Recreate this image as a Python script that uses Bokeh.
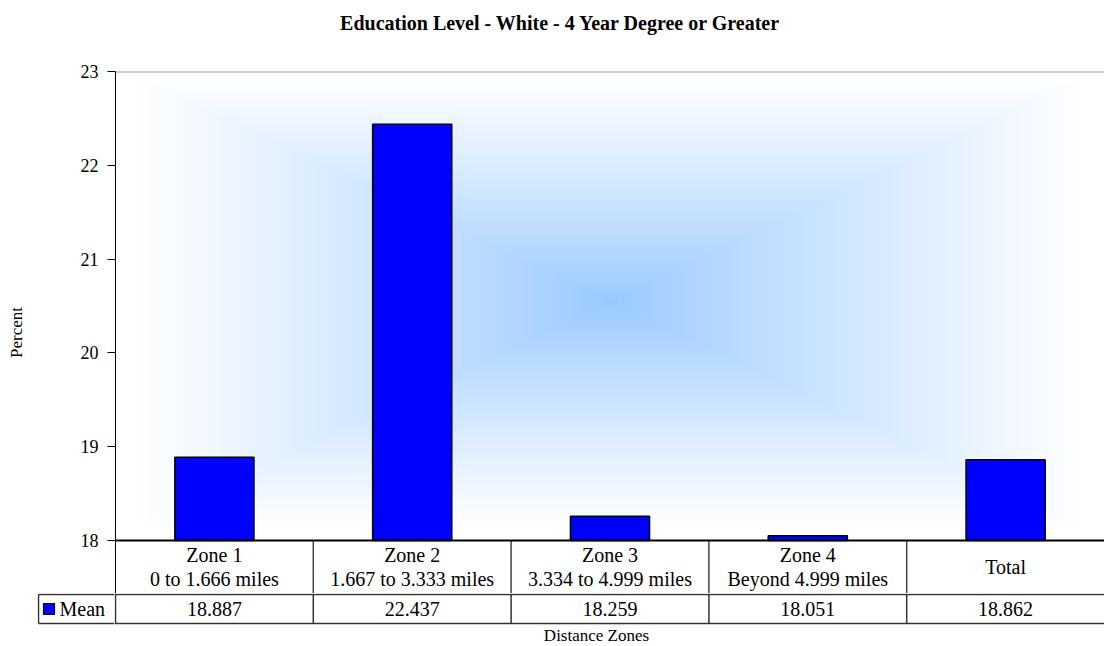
import numpy as np
from bokeh.plotting import figure
from bokeh.models import Range1d, FixedTicker, Span
from bokeh.layouts import column, row
from bokeh.embed import file_html
from bokeh.resources import INLINE
from bokeh.core.properties import value

# ---------------- data ----------------
title_text = "Education Level - White - 4 Year Degree or Greater"
zones = ["Zone 1", "Zone 2", "Zone 3", "Zone 4", "Total"]
zone_ranges = ["0 to 1.666 miles", "1.667 to 3.333 miles", "3.334 to 4.999 miles",
               "Beyond 4.999 miles", ""]
means = [18.887, 22.437, 18.259, 18.051, 18.862]
series_name = "Mean"
y_ticks = [18, 19, 20, 21, 22, 23]
y_label = "Percent"
x_label = "Distance Zones"

labels = [z + ("\n" + r if r else "") for z, r in zip(zones, zone_ranges)]
value_texts = [f"{m:.3f}" for m in means]
n = len(zones)
centers = [i + 0.5 for i in range(n)]   # category slot centres on the numeric axis

# ---------------- layout constants ----------------
FONT = value("Liberation Serif")
W = 1104
LEFT = 115          # frame left
HT = 40             # title strip height
FRAME_TOP = 71
Y18 = 540           # px of y=18
ROW1 = 53
ROW2 = 29
HB = 53             # height of the value-row strip
LEG_L = 37          # left edge of legend cell strip figure frame
ymin, ymax = y_ticks[0], y_ticks[-1]
ppu = (Y18 - FRAME_TOP) / (ymax - ymin)
y_row1 = ymin - ROW1 / ppu
ppx = (W - LEFT) / n


def base(width, height, x_range, y_range, border_left, border_top=0):
    f = figure(width=width, height=height, x_range=x_range, y_range=y_range,
               output_backend="svg", toolbar_location=None,
               x_axis_location=None, y_axis_location=None,
               min_border_left=border_left, min_border_right=0,
               min_border_top=border_top, min_border_bottom=0)
    f.grid.visible = False
    f.outline_line_color = None
    f.background_fill_color = "white"
    f.border_fill_color = "white"
    return f

# ---------------- title strip ----------------
qT = base(W, HT, Range1d(0, n), Range1d(-HT, 0), LEFT)
qT.text(x=(560 - LEFT) / ppx, y=-22, text=[title_text], text_font=FONT,
        text_font_size="20px", text_font_style="bold", text_align="center",
        text_baseline="middle", text_color="black")

# ---------------- chart figure ----------------
p = figure(width=W, height=Y18 + ROW1 - HT,
           x_range=Range1d(0, n),
           y_range=Range1d(y_row1, ymax),
           output_backend="svg", toolbar_location=None,
           x_axis_location=None, title=None,
           min_border_left=LEFT, min_border_right=0,
           min_border_top=FRAME_TOP - HT, min_border_bottom=0)
p.grid.visible = False
p.outline_line_color = None
p.background_fill_color = "white"
p.border_fill_color = "white"

ax = p.yaxis[0]
ax.ticker = FixedTicker(ticks=y_ticks)
ax.minor_tick_line_color = None
ax.major_tick_out = 8
ax.major_tick_in = 0
ax.major_tick_line_color = "black"
ax.axis_line_color = "black"
ax.major_label_text_font = "Liberation Serif"
ax.major_label_text_font_size = "18px"
ax.major_label_text_color = "black"
ax.major_label_standoff = 9
ax.axis_label = y_label
ax.axis_label_text_font = "Liberation Serif"
ax.axis_label_text_font_size = "17px"
ax.axis_label_text_font_style = "normal"
ax.axis_label_text_color = "black"
ax.axis_label_standoff = 52

# box gradient background
center = np.array([150, 200, 255])
cx, hw = 2.5, 2.42
cy, hh = 20.55, 2.42
N = 110
l_, r_, b_, t_, cols = [], [], [], [], []
for k in range(N):
    t = 1 - k / N
    f = t ** 0.85
    c = center + (255 - center) * f
    l_.append(cx - hw * t); r_.append(cx + hw * t)
    b_.append(cy - hh * t); t_.append(cy + hh * t)
    cols.append("#%02x%02x%02x" % tuple(int(round(v)) for v in c))
p.quad(left=l_, right=r_, bottom=b_, top=t_, fill_color=cols, line_color=None)

p.add_layout(Span(location=ymax, dimension="width", line_color="#9a9a9a", line_width=2))

bars = p.vbar(x=centers, top=means, bottom=ymin, width=0.4, fill_color="#0000FF",
              line_color="black", line_width=1.5)

p.add_layout(Span(location=ymin, dimension="width", line_color="black", line_width=2))
p.segment(x0=list(range(1, n)), y0=y_row1, x1=list(range(1, n)), y1=ymin,
          line_color="#444444", line_width=1.5)

p.text(x=centers, y=(ymin + y_row1) / 2, text=labels, text_font=FONT,
       text_font_size="20px", text_align="center", text_baseline="middle",
       text_line_height=1.1, text_color="black")

# ---------------- legend cell strip ----------------
cell_w = LEFT - 1 - (LEG_L + 1)      # legend cell width in px
qL = base(LEFT - 1, HB, Range1d(-1, cell_w), Range1d(-(HB - 1), 1), LEG_L)
qL.segment(x0=[0, 0], y0=[0, -ROW2], x1=[cell_w, cell_w], y1=[0, -ROW2],
           line_color="#333333", line_width=1.5)
qL.segment(x0=[0], y0=[0], x1=[0], y1=[-ROW2], line_color="#333333", line_width=1.5)
qL.rect(x=10.5, y=-ROW2 / 2, width=11, height=11, width_units="screen",
        height_units="screen", fill_color="#0000FF", line_color="black", line_width=1.2)
qL.text(x=21, y=-ROW2 / 2, text=[series_name], text_font=FONT, text_font_size="20px",
        text_align="left", text_baseline="middle", text_color="black")

# ---------------- value row strip ----------------
qR = base(W - (LEFT - 1), HB, Range1d(-1 / ppx, n), Range1d(-(HB - 1), 1), 0)
qR.segment(x0=[-1 / ppx, -1 / ppx], y0=[0, -ROW2], x1=[n, n], y1=[0, -ROW2],
           line_color="#333333", line_width=1.5)
qR.segment(x0=list(range(n)), y0=0, x1=list(range(n)), y1=-ROW2,
           line_color="#333333", line_width=1.5)
qR.text(x=centers, y=-ROW2 / 2, text=value_texts, text_font=FONT,
        text_font_size="20px", text_align="center", text_baseline="middle",
        text_color="black")
qR.text(x=(596 - LEFT) / ppx, y=-(ROW2 + 12), text=[x_label], text_font=FONT,
        text_font_size="17px", text_align="center", text_baseline="middle",
        text_color="black")

layout = column(qT, p, row(qL, qR))
open("out.html", "w").write(file_html(layout, INLINE))
